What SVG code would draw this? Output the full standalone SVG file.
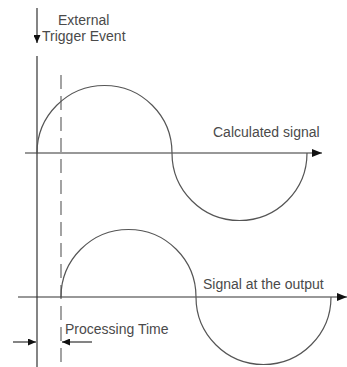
<svg xmlns="http://www.w3.org/2000/svg" width="347" height="367" viewBox="0 0 347 367">
<style>
.ln{stroke:#333;stroke-width:1.2;fill:none}
.sig{stroke:#555;stroke-width:1.2;fill:none}
.dash{stroke:#666;stroke-width:1.2;fill:none;stroke-dasharray:14 7}
.t{font-family:"Liberation Sans",Arial,sans-serif;font-size:14px;fill:#4a4a4a}
</style>
<defs>
<marker id="ah" markerWidth="10" markerHeight="8" refX="10" refY="4" orient="auto" markerUnits="userSpaceOnUse">
<path d="M0,0 L10,4 L0,8 Z" fill="#111"/>
</marker>
<marker id="ahs" markerWidth="8" markerHeight="7" refX="8" refY="3.5" orient="auto" markerUnits="userSpaceOnUse">
<path d="M0,0 L8,3.5 L0,7 Z" fill="#111"/>
</marker>
</defs>
<g id="connectors">
<line class="ln" x1="37" y1="8" x2="37" y2="43" marker-end="url(#ahs)"/>
<line class="ln" x1="37" y1="56" x2="37" y2="367"/>
<line class="dash" x1="61" y1="75" x2="61" y2="367"/>
<line class="ln" x1="25" y1="153" x2="322" y2="153" marker-end="url(#ah)"/>
<line class="ln" x1="18" y1="297" x2="347" y2="297" marker-end="url(#ah)"/>
<line class="ln" x1="13" y1="342" x2="36" y2="342" marker-end="url(#ahs)"/>
<line class="ln" x1="92" y1="342" x2="62" y2="342" marker-end="url(#ahs)"/>
</g>
<g id="calculated-signal">
<path class="sig" d="M37,153 A67.5,67.5 0 0 1 172,153 A67.5,67.5 0 0 0 307,153"/>
<text class="t" x="213" y="137">Calculated signal</text>
</g>
<g id="output-signal">
<path class="sig" d="M61,297 A67.5,67.5 0 0 1 196,297 A67.5,67.5 0 0 0 331,297"/>
<text class="t" x="203" y="289">Signal at the output</text>
</g>
<g id="trigger">
<text class="t" x="58" y="25">External</text>
<text class="t" x="42" y="41">Trigger Event</text>
</g>
<g id="processing">
<text class="t" x="65" y="334">Processing Time</text>
</g>
</svg>
